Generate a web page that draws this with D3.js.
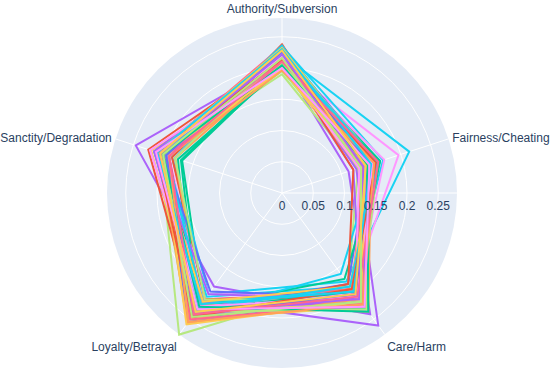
<!DOCTYPE html>
<html lang="en">
<head>
<meta charset="UTF-8">
<title>Moral foundations radar</title>
<style>
  body { margin: 0; background: #fff; }
  svg text { font-family: Arial, "Liberation Sans", sans-serif; fill: #2a3f5f; }
</style>
</head>
<body>
<svg id="chart" width="550" height="377"></svg>
<script src="https://d3js.org/d3.v7.min.js"></script>
<script>
// categories, clockwise from the top
const categories = ["Authority/Subversion", "Fairness/Cheating", "Care/Harm", "Loyalty/Betrayal", "Sanctity/Degradation"];
const tickValues = [0, 0.05, 0.1, 0.15, 0.2, 0.25];

// one value per series for each category (series i = column i)
const authority = [.215, .225, .205, .210, .220, .222, .230, .190, .205, .200, .228, .218, .200, .212, .225, .235, .210, .196, .208, .198,
                   .232, .238, .220, .215, .205, .226, .235, .195, .212, .200, .230, .218, .210, .222, .202, .236, .214, .224, .206, .232,
                   .220, .210, .205, .215, .200, .225, .212, .208, .218, .198, .226, .214, .204, .222, .196, .230, .210, .216, .200, .228];
const fairness  = [.140, .135, .150, .112, .145, .214, .130, .128, .196, .140, .150, .160, .145, .125, .138, .170, .142, .135, .155, .150,
                   .145, .135, .165, .120, .150, .155, .140, .145, .172, .130, .160, .120, .150, .148, .158, .152, .138, .162, .130, .155,
                   .145, .150, .165, .140, .150, .160, .135, .145, .152, .140, .148, .158, .143, .137, .155, .150, .162, .133, .147, .141];
const care      = [.205, .195, .215, .240, .200, .175, .210, .180, .190, .215, .205, .190, .225, .262, .195, .185, .220, .200, .195, .210,
                   .180, .200, .170, .215, .235, .160, .190, .205, .200, .225, .205, .180, .230, .210, .190, .195, .205, .215, .200, .185,
                   .215, .200, .195, .225, .210, .185, .220, .230, .205, .215, .200, .190, .235, .210, .220, .195, .205, .215, .225, .200];
const loyalty   = [.230, .235, .215, .185, .225, .200, .220, .280, .215, .240, .225, .230, .245, .215, .250, .205, .220, .255, .210, .235,
                   .230, .210, .225, .230, .220, .240, .215, .240, .200, .250, .195, .240, .230, .200, .245, .215, .235, .210, .225, .215,
                   .255, .245, .230, .240, .258, .230, .250, .235, .225, .260, .240, .245, .225, .235, .255, .220, .240, .245, .230, .235];
const sanctity  = [.205, .200, .168, .246, .205, .185, .200, .205, .190, .195, .180, .190, .175, .195, .210, .195, .205, .210, .215, .220,
                   .200, .185, .215, .215, .180, .205, .210, .200, .210, .190, .200, .225, .170, .215, .200, .195, .205, .180, .222, .210,
                   .200, .205, .205, .190, .205, .200, .195, .200, .210, .200, .195, .210, .200, .205, .190, .210, .190, .200, .212, .205];

const palette = ["#636efa", "#EF553B", "#00cc96", "#ab63fa", "#FFA15A", "#19d3f3", "#FF6692", "#B6E880", "#FF97FF", "#FECB52"];

const series = authority.map((a, i) => [a, fairness[i], care[i], loyalty[i], sanctity[i]]);

const svg = d3.select("#chart");
const cx = 282, cy = 193, R = 175;

const r = d3.scaleLinear().domain([0, 0.28]).range([0, R]);
const ang = d3.scalePoint().domain(categories).range([0, 2 * Math.PI * 4 / 5]); // 0 = up, clockwise

const g = svg.append("g").attr("transform", `translate(${cx},${cy})`);

// background disk
g.append("circle").attr("r", R).attr("fill", "#E5ECF6");

// circular grid
g.selectAll(".ring")
  .data(tickValues.filter(d => d > 0))
  .enter().append("circle")
  .attr("r", d => r(d))
  .attr("fill", "none")
  .attr("stroke", "#fff")
  .attr("stroke-width", 1);

// angular grid
g.selectAll(".spoke")
  .data(categories)
  .enter().append("line")
  .attr("x2", d => R * Math.sin(ang(d)))
  .attr("y2", d => -R * Math.cos(ang(d)))
  .attr("stroke", "#fff")
  .attr("stroke-width", 1);

// radial axis line (east)
g.append("line").attr("x2", R).attr("stroke", "#fff").attr("stroke-width", 1);

// traces
const line = d3.lineRadial()
  .angle((d, i) => ang(categories[i]))
  .radius(d => r(d))
  .curve(d3.curveLinearClosed);

g.selectAll(".trace")
  .data(series)
  .enter().append("path")
  .attr("d", d => line(d))
  .attr("fill", "none")
  .attr("stroke", (d, i) => palette[i % palette.length])
  .attr("stroke-width", 2)
  .attr("stroke-linejoin", "miter");

// radial tick labels
g.selectAll(".rtick")
  .data(tickValues)
  .enter().append("text")
  .attr("x", d => r(d))
  .attr("y", 17)
  .attr("text-anchor", "middle")
  .attr("font-size", 12)
  .text(d => d);

// angular labels
const labR = 179;
g.selectAll(".alabel")
  .data(categories)
  .enter().append("text")
  .each(function (d) {
    const a = ang(d);
    const s = Math.cos(a), c = Math.sin(a); // s: up component, c: right component
    const x = labR * c, y = -labR * s;
    const anchor = c > 0.1 ? "start" : c < -0.1 ? "end" : "middle";
    const yc = s > 0.5 ? y - 5 : s < -0.5 ? y + 9 : y;
    d3.select(this)
      .attr("x", x)
      .attr("y", yc)
      .attr("dy", "0.35em")
      .attr("text-anchor", anchor)
      .attr("font-size", 12)
      .text(d);
  });
</script>
</body>
</html>
